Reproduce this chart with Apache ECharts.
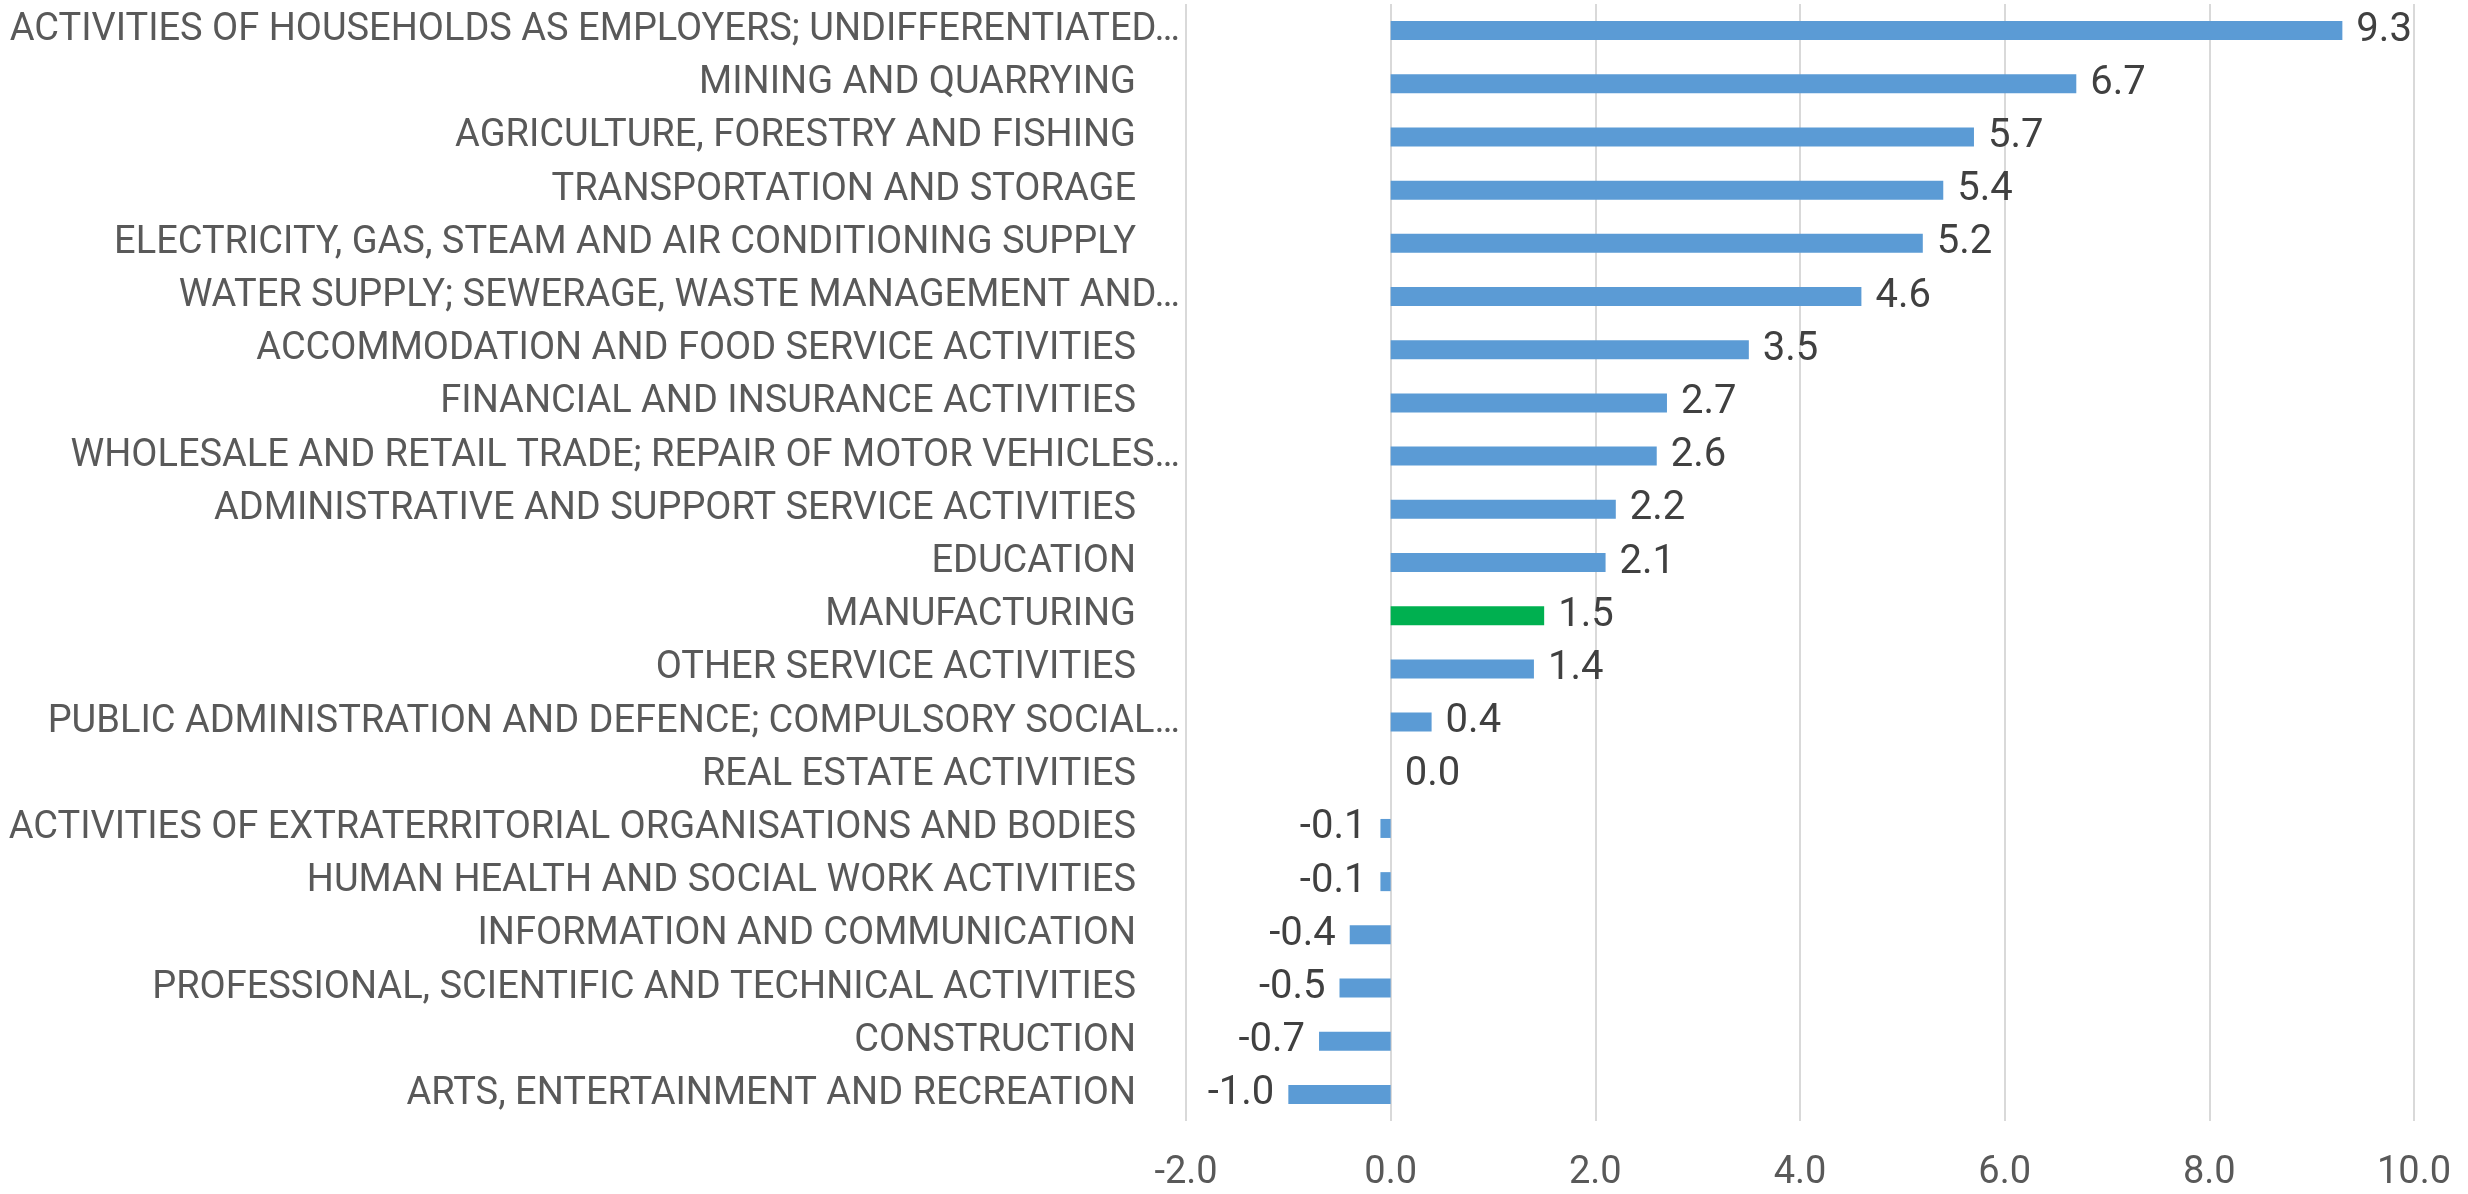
<!DOCTYPE html>
<html>
<head>
<meta charset="utf-8">
<script src="https://cdn.jsdelivr.net/npm/echarts@6/dist/echarts.min.js"></script>
<style>
  html, body { margin: 0; padding: 0; background: #fff; }
  #chart { width: 2468px; height: 1194px; }
</style>
</head>
<body>
<div id="chart"></div>
<script>
// sectors, top to bottom as in the picture
const sectors = [
    'ACTIVITIES OF HOUSEHOLDS AS EMPLOYERS; UNDIFFERENTIATED…',
    'MINING AND QUARRYING',
    'AGRICULTURE, FORESTRY AND FISHING',
    'TRANSPORTATION AND STORAGE',
    'ELECTRICITY, GAS, STEAM AND AIR CONDITIONING SUPPLY',
    'WATER SUPPLY; SEWERAGE, WASTE MANAGEMENT AND…',
    'ACCOMMODATION AND FOOD SERVICE ACTIVITIES',
    'FINANCIAL AND INSURANCE ACTIVITIES',
    'WHOLESALE AND RETAIL TRADE; REPAIR OF MOTOR VEHICLES…',
    'ADMINISTRATIVE AND SUPPORT SERVICE ACTIVITIES',
    'EDUCATION',
    'MANUFACTURING',
    'OTHER SERVICE ACTIVITIES',
    'PUBLIC ADMINISTRATION AND DEFENCE; COMPULSORY SOCIAL…',
    'REAL ESTATE ACTIVITIES',
    'ACTIVITIES OF EXTRATERRITORIAL ORGANISATIONS AND BODIES',
    'HUMAN HEALTH AND SOCIAL WORK ACTIVITIES',
    'INFORMATION AND COMMUNICATION',
    'PROFESSIONAL, SCIENTIFIC AND TECHNICAL ACTIVITIES',
    'CONSTRUCTION',
    'ARTS, ENTERTAINMENT AND RECREATION',
];
const values = [9.3, 6.7, 5.7, 5.4, 5.2, 4.6, 3.5, 2.7, 2.6, 2.2, 2.1, 1.5, 1.4, 0.4, 0.0, -0.1, -0.1, -0.4, -0.5, -0.7, -1.0];
const highlighted = 'MANUFACTURING';
const axisTicks = [-2, 0, 2, 4, 6, 8, 10];

const FONT = 'Roboto';
const BLUE = '#5B9BD5';
const GREEN = '#00B050';

const chart = echarts.init(document.getElementById('chart'), null, { renderer: 'canvas' });

const barData = values.map((v, i) => ({
    value: v,
    itemStyle: { color: sectors[i] === highlighted ? GREEN : BLUE },
    label: { position: v < 0 ? 'left' : 'right' },
}));

chart.setOption({
    animation: false,
    backgroundColor: '#fff',
    grid: {
        left: 1186,
        right: 54,
        top: 4,
        bottom: 73,
    },
    xAxis: {
        type: 'value',
        min: axisTicks[0],
        max: axisTicks[axisTicks.length - 1],
        interval: 2,
        axisLine: { show: false },
        axisTick: { show: false },
        splitLine: { lineStyle: { color: '#D9D9D9', width: 2 } },
        axisLabel: {
            color: '#595959',
            fontFamily: FONT,
            fontSize: 38,
            margin: 33,
            formatter: v => v.toFixed(1),
        },
    },
    yAxis: {
        type: 'category',
        inverse: true,
        data: sectors,
        axisLine: { show: false },
        axisTick: { show: false },
        splitLine: { show: false },
        axisLabel: {
            margin: 6,
            formatter: v => v.endsWith('…') ? '{e|' + v + '}' : '{n|' + v + '}',
            rich: {
                n: { color: '#595959', fontFamily: FONT, fontSize: 38, padding: [0, 44, 0, 0] },
                e: { color: '#595959', fontFamily: FONT, fontSize: 38 },
            },
        },
    },
    series: [{
        type: 'bar',
        data: barData,
        barWidth: 19,
        label: {
            show: true,
            distance: 14,
            color: '#404040',
            fontFamily: FONT,
            fontSize: 40,
            formatter: p => p.value.toFixed(1),
        },
    }],
});
</script>
</body>
</html>
